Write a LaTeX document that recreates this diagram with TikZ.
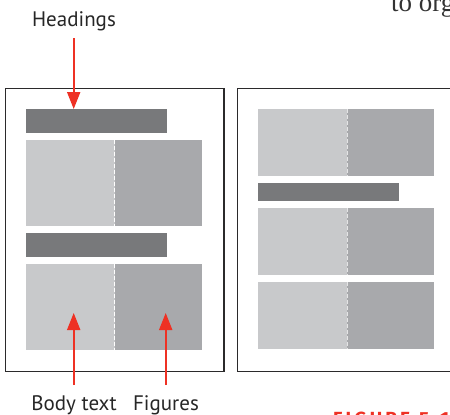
\documentclass[tikz,border=0pt]{standalone}
\usepackage{fontspec}
\setmainfont{PT Sans}
\newfontfamily\serifpart{Liberation Serif}
\newfontfamily\figfont{Fira Sans}
\usetikzlibrary{arrows.meta}
\definecolor{pageline}{HTML}{2B2A2B}
\definecolor{headgray}{HTML}{78797B}
\definecolor{lightgray}{HTML}{C8C9CB}
\definecolor{midgray}{HTML}{A8A9AC}
\definecolor{arrowred}{HTML}{EE3124}
\tikzset{
  page/.style={draw=pageline, line width=1.5pt, fill=white, anchor=north west, inner sep=0pt},
  hbar/.style={fill=headgray, anchor=north west, inner sep=0pt, minimum height=#1},
  lblock/.style={fill=lightgray, anchor=north west, inner sep=0pt, minimum height=#1},
  rblock/.style={fill=midgray, anchor=north west, inner sep=0pt, minimum height=#1},
  divline/.style={draw=white, line width=0.9pt, dash pattern=on 4pt off 2pt},
  redarrow/.style={draw=arrowred, line width=2pt, -{Triangle[length=17pt,width=13pt]}},
  lbl/.style={font=\fontsize{21}{24}\selectfont, text=black!85, inner sep=0pt, anchor=base}
}
\begin{document}
\begin{tikzpicture}[x=1pt,y=-1pt]
\useasboundingbox (0,0) rectangle (450,415);
\clip (0,0) rectangle (450,415);
% clipped running text
\node[font=\serifpart\fontsize{27}{30}\selectfont, text=black!80, anchor=base west, inner sep=0pt] (runtext) at (391,11) {to org};
\node[font=\figfont\bfseries\fontsize{19}{21}\selectfont, text=arrowred, anchor=north west, inner sep=0pt] (figlabel) at (333,411.5) {F\,I\,G\,U\,R\,E\ \ 5\,.\,1\,0};
% left page
\node[page, minimum width=218.5pt, minimum height=283pt] (lp) at (4.5,87.5) {};
\node[hbar=24pt, minimum width=141pt] (lh1) at (26,109) {};
\node[lblock=85.7pt, minimum width=88.3pt] (lb1a) at (26,140) {};
\node[rblock=85.7pt, minimum width=87.7pt] (lb1b) at (114.3,140) {};
\draw[divline] (lb1a.north east) -- (lb1a.south east);
\node[hbar=23.7pt, minimum width=141pt] (lh2) at (26,233) {};
\node[lblock=85.3pt, minimum width=88.3pt] (lb2a) at (26,264) {};
\node[rblock=85.3pt, minimum width=87.7pt] (lb2b) at (114.3,264) {};
\draw[divline] (lb2a.north east) -- (lb2a.south east);
% right page
\node[page, minimum width=240pt, minimum height=283pt] (rp) at (236.7,87.5) {};
\node[lblock=67pt, minimum width=88.7pt] (rb1a) at (258,109) {};
\node[rblock=67pt, minimum width=87.3pt] (rb1b) at (346.7,109) {};
\draw[divline, draw=white!70!midgray] (rb1a.north east) -- (rb1a.south east);
\node[hbar=17.7pt, minimum width=141pt] (rh1) at (258,183) {};
\node[lblock=67pt, minimum width=88.7pt] (rb2a) at (258,208) {};
\node[rblock=67pt, minimum width=87.3pt] (rb2b) at (346.7,208) {};
\draw[divline, draw=white!70!midgray] (rb2a.north east) -- (rb2a.south east);
\node[lblock=66.7pt, minimum width=88.7pt] (rb3a) at (258,282) {};
\node[rblock=66.7pt, minimum width=87.3pt] (rb3b) at (346.7,282) {};
\draw[divline, draw=white!70!midgray] (rb3a.north east) -- (rb3a.south east);
% labels
\node[lbl] (headings) at (74,26.7) {Headings};
\node[lbl] (bodytext) at (74,410) {Body text};
\node[lbl] (figures) at (166,410) {Figures};
% arrows
\coordinate (hs) at (73.7,38);
\coordinate (bs) at (73.7,385);
\coordinate (fs) at (165.7,385);
\coordinate (bt) at (73.7,313);
\coordinate (ft) at (165.7,313);
\draw[redarrow] (hs) -- (hs |- lh1.north);
\draw[redarrow] (bs) -- (bt);
\draw[redarrow] (fs) -- (ft);
\end{tikzpicture}
\end{document}
